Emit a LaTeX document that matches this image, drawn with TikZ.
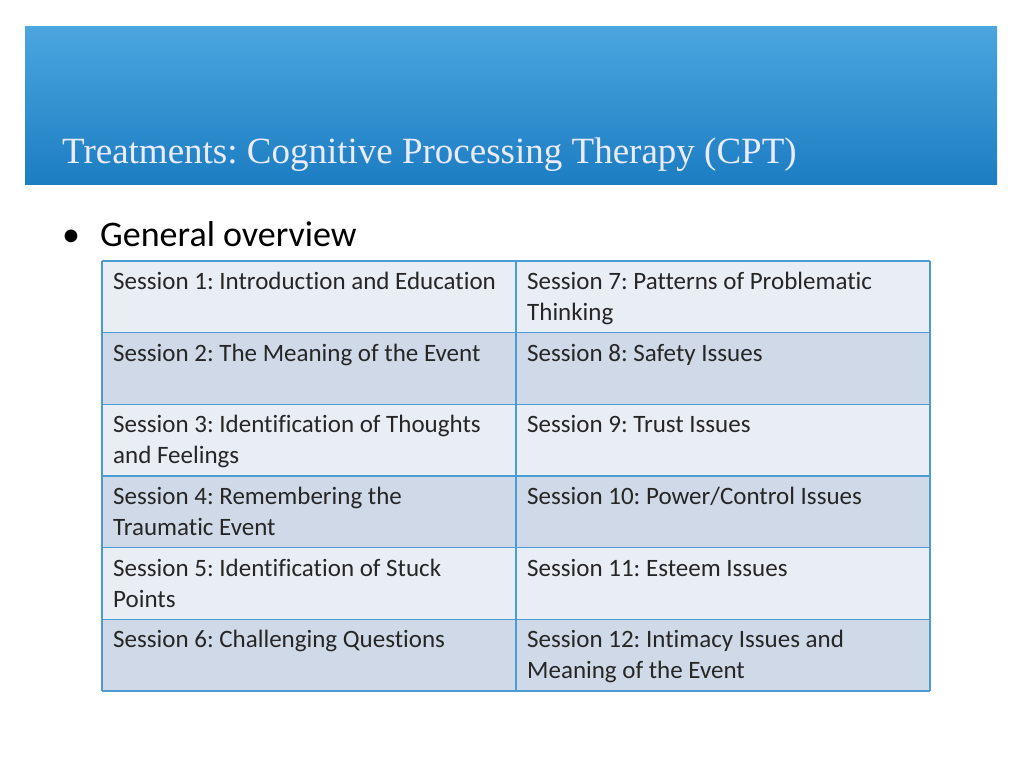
\documentclass[tikz,border=0pt]{standalone}
\usepackage{fontspec}
\setmainfont[Ligatures=NoCommon]{Carlito}
\newfontfamily\titlefont{Liberation Serif}
\frenchspacing
\begin{document}
\begin{tikzpicture}[x=1pt,y=-1pt,
  cell/.style={anchor=north west,inner sep=0pt,align=left,font=\fontsize{25}{31}\selectfont,text=black!85}]
\useasboundingbox (0,0) rectangle (1024,768);
\fill[white] (0,0) rectangle (1024,768);
\definecolor{bandA}{HTML}{4BA6DF}
\definecolor{bandB}{HTML}{1C7DC2}
\definecolor{rowL}{HTML}{E9EDF4}
\definecolor{rowD}{HTML}{CFD9E7}
\definecolor{gridc}{HTML}{4A9CD2}
\shade[top color=bandA,bottom color=bandB] (25,27) rectangle (997,184);
\node[anchor=base west,inner sep=0,text=white!92!blue,font=\titlefont\fontsize{37}{40}\selectfont] (title) at (62,163) {Treatments: Cognitive Processing Therapy (CPT)};
\node[anchor=base west,inner sep=0,font=\fontsize{36}{40}\selectfont] (bul) at (62,246) {\textbullet};
\node[anchor=base west,inner sep=0,font=\fontsize{36}{40}\selectfont] (gen) at (100,246) {General overview};
\foreach \i/\c in {0/rowL,1/rowD,2/rowL,3/rowD,4/rowL,5/rowD}{
  \fill[\c] (102,261+71.67*\i) rectangle (930,261+71.67*\i+71.67);
}
\foreach \i in {0,...,6}{\draw[gridc,line width=1.3pt] (102,261+71.67*\i) -- (930,261+71.67*\i);}
\draw[gridc,line width=1.3pt] (102,261) -- (102,691) (516,261) -- (516,691) (930,261) -- (930,691);
\node[cell] (a1) at (113,272) {Session 1: Introduction and Education};
\node[cell] (a2) at (113,343.7) {Session 2: The Meaning of the Event};
\node[cell] (a3) at (113,415.3) {Session 3: Identification of Thoughts\\and Feelings};
\node[cell] (a4) at (113,487) {Session 4: Remembering the\\Traumatic Event};
\node[cell] (a5) at (113,558.7) {Session 5: Identification of Stuck\\Points};
\node[cell] (a6) at (113,630.3) {Session 6: Challenging Questions};
\node[cell] (b1) at (527,272) {Session 7: Patterns of Problematic\\Thinking};
\node[cell] (b2) at (527,343.7) {Session 8: Safety Issues};
\node[cell] (b3) at (527,415.3) {Session 9: Trust Issues};
\node[cell] (b4) at (527,487) {Session 10: Power/Control Issues};
\node[cell] (b5) at (527,558.7) {Session 11: Esteem Issues};
\node[cell] (b6) at (527,630.3) {Session 12: Intimacy Issues and\\Meaning of the Event};
\end{tikzpicture}
\end{document}
